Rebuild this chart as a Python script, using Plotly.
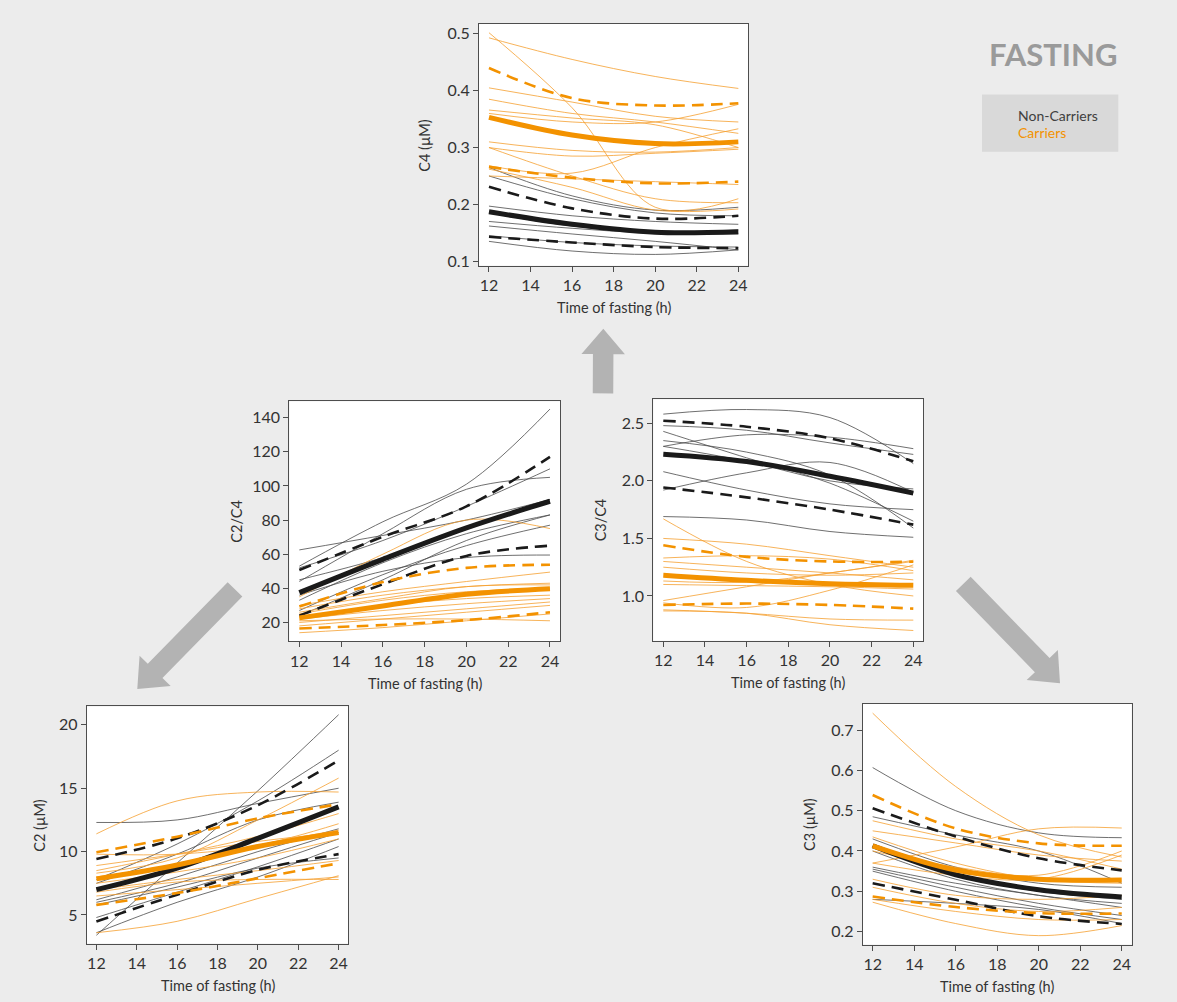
import plotly.graph_objects as go
import math

# ---------------- data (values read at 12, 16, 20, 24 h) ----------------
HOURS = [12, 16, 20, 24]
X_TICKS = [12, 14, 16, 18, 20, 22, 24]

# C4 (uM)
c4_nc_lines = [
    [0.265, 0.215, 0.190, 0.195],
    [0.250, 0.210, 0.185, 0.180],
    [0.197, 0.180, 0.170, 0.165],
    [0.185, 0.162, 0.150, 0.148],
    [0.170, 0.158, 0.150, 0.155],
    [0.162, 0.148, 0.135, 0.120],
    [0.145, 0.133, 0.127, 0.125],
    [0.135, 0.118, 0.112, 0.120],
]
c4_c_lines = [
    [0.502, 0.370, 0.195, 0.210],
    [0.493, 0.455, 0.425, 0.404],
    [0.405, 0.380, 0.355, 0.345],
    [0.385, 0.360, 0.345, 0.325],
    [0.366, 0.352, 0.340, 0.300],
    [0.360, 0.345, 0.345, 0.376],
    [0.310, 0.295, 0.292, 0.300],
    [0.300, 0.250, 0.210, 0.203],
    [0.268, 0.255, 0.300, 0.333],
    [0.250, 0.245, 0.240, 0.235],
    [0.262, 0.230, 0.190, 0.192],
    [0.300, 0.285, 0.290, 0.297],
]
c4_nc_mean = [0.187, 0.165, 0.151, 0.152]
c4_nc_hi = [0.231, 0.193, 0.175, 0.180]
c4_nc_lo = [0.143, 0.133, 0.125, 0.123]
c4_c_mean = [0.353, 0.322, 0.307, 0.310]
c4_c_hi = [0.440, 0.387, 0.374, 0.378]
c4_c_lo = [0.266, 0.247, 0.237, 0.240]

# C2/C4
c2c4_nc_lines = [
    [53, 79, 101, 145],
    [52, 68, 88, 110],
    [44, 72, 98, 105],
    [62.5, 71, 80, 92],
    [33, 55, 72, 83],
    [24, 45, 68, 83],
    [27, 48, 65, 77],
    [36, 50, 58, 59.5],
    [45, 58, 75, 92],
]
c2c4_c_lines = [
    [35, 60, 80, 75],
    [30, 38, 44, 49.5],
    [28, 36, 41, 43],
    [25, 33, 38, 40],
    [23, 30, 34, 36],
    [22, 27, 31, 34],
    [20, 24, 28, 32],
    [18, 22, 26, 30],
    [21, 22, 22, 21],
    [14, 17, 21, 25],
    [26, 34, 41, 42],
]
c2c4_nc_mean = [37.5, 57, 75.4, 91]
c2c4_nc_hi = [50.7, 70.2, 88, 117]
c2c4_nc_lo = [24, 42.4, 59, 65]
c2c4_c_mean = [22.7, 29.7, 36.5, 39.8]
c2c4_c_hi = [29.3, 43.7, 52, 53.8]
c2c4_c_lo = [16.5, 18.5, 21.4, 26]

# C3/C4
c3c4_nc_lines = [
    [2.58, 2.62, 2.55, 2.15],
    [2.48, 2.44, 2.33, 2.23],
    [2.30, 2.40, 2.38, 2.28],
    [2.43, 2.20, 1.98, 1.65],
    [2.35, 2.25, 2.05, 1.59],
    [2.08, 1.92, 1.80, 1.75],
    [1.92, 2.07, 2.16, 1.90],
    [2.30, 2.17, 2.00, 1.93],
    [1.69, 1.66, 1.56, 1.51],
]
c3c4_c_lines = [
    [1.67, 1.30, 1.10, 1.00],
    [1.50, 1.45, 1.35, 1.25],
    [1.33, 1.35, 1.32, 1.22],
    [1.30, 1.25, 1.20, 1.14],
    [1.25, 1.20, 1.18, 1.20],
    [1.13, 1.12, 1.20, 1.31],
    [1.10, 1.09, 1.08, 1.06],
    [0.96, 1.08, 1.20, 1.30],
    [0.94, 0.90, 1.05, 1.27],
    [0.88, 0.85, 0.80, 0.79],
    [0.87, 0.85, 0.75, 0.70],
]
c3c4_nc_mean = [2.232, 2.168, 2.04, 1.894]
c3c4_nc_hi = [2.523, 2.47, 2.37, 2.17]
c3c4_nc_lo = [1.943, 1.857, 1.75, 1.62]
c3c4_c_mean = [1.18, 1.136, 1.107, 1.093]
c3c4_c_hi = [1.44, 1.34, 1.30, 1.297]
c3c4_c_lo = [0.922, 0.934, 0.922, 0.89]

# C2 (uM)
c2_nc_lines = [
    [3.4, 9.1, 14.8, 20.8],
    [7.8, 10.6, 14.0, 18.0],
    [12.3, 12.5, 13.8, 15.0],
    [7.5, 9.8, 12.5, 13.9],
    [6.2, 8.0, 10.0, 11.8],
    [6.0, 7.5, 9.5, 11.5],
    [4.8, 6.8, 8.8, 11.0],
    [3.6, 6.0, 8.0, 10.4],
    [5.8, 7.2, 8.7, 9.5],
]
c2_c_lines = [
    [11.4, 14.0, 14.7, 14.7],
    [8.3, 9.5, 12.5, 15.8],
    [8.5, 9.8, 11.2, 13.0],
    [9.8, 9.8, 10.5, 12.2],
    [8.0, 9.0, 10.5, 11.7],
    [7.5, 8.4, 9.5, 11.0],
    [7.0, 7.8, 8.5, 9.3],
    [6.8, 7.6, 7.8, 7.8],
    [6.5, 7.0, 7.5, 8.0],
    [3.6, 4.5, 6.3, 8.1],
    [8.9, 9.8, 10.8, 11.5],
]
c2_nc_mean = [7.0, 8.7, 11.05, 13.53]
c2_nc_hi = [9.42, 11.05, 13.66, 17.2]
c2_nc_lo = [4.48, 6.6, 8.56, 9.8]
c2_c_mean = [7.85, 8.95, 10.4, 11.5]
c2_c_hi = [9.95, 11.18, 12.62, 13.74]
c2_c_lo = [5.8, 6.73, 7.9, 9.08]

# C3 (uM)
c3_nc_lines = [
    [0.607, 0.500, 0.445, 0.433],
    [0.485, 0.440, 0.400, 0.320],
    [0.430, 0.360, 0.320, 0.310],
    [0.410, 0.340, 0.300, 0.280],
    [0.400, 0.330, 0.290, 0.270],
    [0.360, 0.320, 0.290, 0.260],
    [0.355, 0.310, 0.270, 0.240],
    [0.350, 0.300, 0.260, 0.230],
    [0.280, 0.270, 0.255, 0.220],
]
c3_c_lines = [
    [0.742, 0.560, 0.440, 0.385],
    [0.475, 0.430, 0.400, 0.355],
    [0.450, 0.420, 0.390, 0.375],
    [0.370, 0.410, 0.455, 0.457],
    [0.435, 0.370, 0.330, 0.320],
    [0.400, 0.360, 0.340, 0.400],
    [0.330, 0.290, 0.280, 0.290],
    [0.310, 0.270, 0.250, 0.260],
    [0.280, 0.250, 0.230, 0.230],
    [0.273, 0.220, 0.190, 0.215],
    [0.370, 0.340, 0.330, 0.390],
]
c3_nc_mean = [0.413, 0.341, 0.304, 0.286]
c3_nc_hi = [0.506, 0.436, 0.382, 0.352]
c3_nc_lo = [0.320, 0.279, 0.238, 0.219]
c3_c_mean = [0.413, 0.353, 0.330, 0.328]
c3_c_hi = [0.539, 0.456, 0.419, 0.413]
c3_c_lo = [0.287, 0.261, 0.246, 0.245]

# ---------------- styling / layout ----------------
W, H = 1177, 1002
BG = "#ececec"
BLACK = "#1a1a1a"
THIN_BLACK = "#4a4a4a"
ORANGE = "#f39200"
THIN_ORANGE = "#f5a030"
AXIS = "#4d4d4d"
FONT = "Lato"

panels = [
    dict(name="C4 (\u00b5M)", box=(479, 24, 748.3, 266.7), yr=[0.0923, 0.5175],
         yt=[0.1, 0.2, 0.3, 0.4, 0.5], ytext=["0.1", "0.2", "0.3", "0.4", "0.5"],
         nc=c4_nc_lines, c=c4_c_lines, ncm=c4_nc_mean, nch=c4_nc_hi, ncl=c4_nc_lo,
         cm=c4_c_mean, ch=c4_c_hi, cl=c4_c_lo, tdx=54),
    dict(name="C2/C4", box=(289.3, 403, 560, 644), yr=[8.9, 149.5],
         yt=[20, 40, 60, 80, 100, 120, 140], ytext=None,
         nc=c2c4_nc_lines, c=c2c4_c_lines, ncm=c2c4_nc_mean, nch=c2c4_nc_hi, ncl=c2c4_nc_lo,
         cm=c2c4_c_mean, ch=c2c4_c_hi, cl=c2c4_c_lo, tdx=53),
    dict(name="C3/C4", box=(653.3, 401, 923.3, 643.3), yr=[0.611, 2.708],
         yt=[1.0, 1.5, 2.0, 2.5], ytext=["1.0", "1.5", "2.0", "2.5"],
         nc=c3c4_nc_lines, c=c3c4_c_lines, ncm=c3c4_nc_mean, nch=c3c4_nc_hi, ncl=c3c4_nc_lo,
         cm=c3c4_c_mean, ch=c3c4_c_hi, cl=c3c4_c_lo, tdx=53),
    dict(name="C2 (\u00b5M)", box=(86.7, 709.3, 348.3, 947.3), yr=[2.75, 21.45],
         yt=[5, 10, 15, 20], ytext=None,
         nc=c2_nc_lines, c=c2_c_lines, ncm=c2_nc_mean, nch=c2_nc_hi, ncl=c2_nc_lo,
         cm=c2_c_mean, ch=c2_c_hi, cl=c2_c_lo, tdx=47),
    dict(name="C3 (\u00b5M)", box=(862.7, 706.7, 1131.7, 948.3), yr=[0.168, 0.765],
         yt=[0.2, 0.3, 0.4, 0.5, 0.6, 0.7], ytext=["0.2", "0.3", "0.4", "0.5", "0.6", "0.7"],
         nc=c3_nc_lines, c=c3_c_lines, ncm=c3_nc_mean, nch=c3_nc_hi, ncl=c3_nc_lo,
         cm=c3_c_mean, ch=c3_c_hi, cl=c3_c_lo, tdx=54),
]

fig = go.Figure()
layout = dict(
    width=W, height=H, margin=dict(l=0, r=0, t=0, b=0),
    paper_bgcolor=BG, plot_bgcolor="white", showlegend=False,
    font=dict(family=FONT, color="#333333"),
)
annotations = []
shapes = []


def px(x):
    return x / W


def py(y):
    return 1 - y / H


for i, p in enumerate(panels, start=1):
    xa = "x" if i == 1 else f"x{i}"
    ya = "y" if i == 1 else f"y{i}"
    x0, y0, x1, y1 = p["box"]
    axis_common = dict(showgrid=False, zeroline=False, showline=True, mirror=True,
                       linecolor=AXIS, linewidth=1, ticks="outside", ticklen=5,
                       tickcolor=AXIS, tickfont=dict(size=16, color="#333333", family=FONT))
    layout["xaxis" if i == 1 else f"xaxis{i}"] = dict(
        axis_common, domain=[px(x0), px(x1)], range=[11.52, 24.48], tickvals=X_TICKS,
        anchor=ya, fixedrange=True)
    yax = dict(axis_common, domain=[py(y1), py(y0)], range=p["yr"], tickvals=p["yt"],
               anchor=xa, fixedrange=True)
    if p["ytext"]:
        yax["ticktext"] = p["ytext"]
    layout["yaxis" if i == 1 else f"yaxis{i}"] = yax

    def add(vals, color, width, dash="solid"):
        fig.add_trace(go.Scatter(x=HOURS, y=vals, mode="lines", xaxis=xa, yaxis=ya,
                                 line=dict(color=color, width=width, dash=dash,
                                           shape="spline", smoothing=1.0),
                                 hoverinfo="skip"))

    for v in p["nc"]:
        add(v, THIN_BLACK, 0.8)
    for v in p["c"]:
        add(v, THIN_ORANGE, 0.8)
    add(p["nch"], BLACK, 2.6, "12px,7px")
    add(p["ncl"], BLACK, 2.6, "12px,7px")
    add(p["ch"], ORANGE, 2.6, "12px,7px")
    add(p["cl"], ORANGE, 2.6, "12px,7px")
    add(p["ncm"], BLACK, 5)
    add(p["cm"], ORANGE, 5)

    # axis titles
    annotations.append(dict(text="Time of fasting (h)", xref="paper", yref="paper",
                            x=px((x0 + x1) / 2), y=py(y1 + 42), showarrow=False,
                            xanchor="center", yanchor="middle",
                            font=dict(size=14.5, color="#333333", family=FONT)))
    annotations.append(dict(text=p["name"], xref="paper", yref="paper",
                            x=px(x0 - p["tdx"]), y=py((y0 + y1) / 2), showarrow=False,
                            textangle=-90, xanchor="center", yanchor="middle",
                            font=dict(size=14.5, color="#333333", family=FONT)))


# ---------------- block arrows ----------------
def arrow_path(tail, tip, sw=20.5, hw=43.5, hl=25.5):
    tx, ty = tail
    hx, hy = tip
    L = math.hypot(hx - tx, hy - ty)
    ux, uy = (hx - tx) / L, (hy - ty) / L
    nx, ny = -uy, ux
    bx, by = hx - ux * hl, hy - uy * hl
    pts = [
        (tx + nx * sw / 2, ty + ny * sw / 2),
        (bx + nx * sw / 2, by + ny * sw / 2),
        (bx + nx * hw / 2, by + ny * hw / 2),
        (hx, hy),
        (bx - nx * hw / 2, by - ny * hw / 2),
        (bx - nx * sw / 2, by - ny * sw / 2),
        (tx - nx * sw / 2, ty - ny * sw / 2),
    ]
    s = "M " + " L ".join(f"{px(a):.5f},{py(b):.5f}" for a, b in pts) + " Z"
    return s


for tail, tip in [((603.0, 395.0), (603.3, 330.0)),
                  ((235.0, 591.7), (137.3, 691.7)),
                  ((963.3, 586.3), (1060.0, 686.0))]:
    shapes.append(dict(type="path", path=arrow_path(tail, tip), xref="paper", yref="paper",
                       fillcolor="#b3b3b3", line=dict(width=0), layer="below"))

# legend box
shapes.append(dict(type="rect", xref="paper", yref="paper", x0=px(982), x1=px(1118.3),
                   y0=py(152.3), y1=py(95), fillcolor="#d9d9d9", line=dict(width=0),
                   layer="below"))
annotations.append(dict(text="Non-Carriers", xref="paper", yref="paper", x=px(1016),
                        y=py(115.7), xanchor="left", yanchor="middle", showarrow=False,
                        font=dict(size=14, color="#404040", family=FONT)))
annotations.append(dict(text="Carriers", xref="paper", yref="paper", x=px(1016),
                        y=py(133.3), xanchor="left", yanchor="middle", showarrow=False,
                        font=dict(size=14, color=ORANGE, family=FONT)))
annotations.append(dict(text="<b>FASTING</b>", xref="paper", yref="paper", x=px(1053),
                        y=py(54), xanchor="center", yanchor="middle", showarrow=False,
                        font=dict(size=31, color="#9a9a9a", family=FONT)))

layout["annotations"] = annotations
layout["shapes"] = shapes
fig.update_layout(**layout)
fig.write_html("out.html")
